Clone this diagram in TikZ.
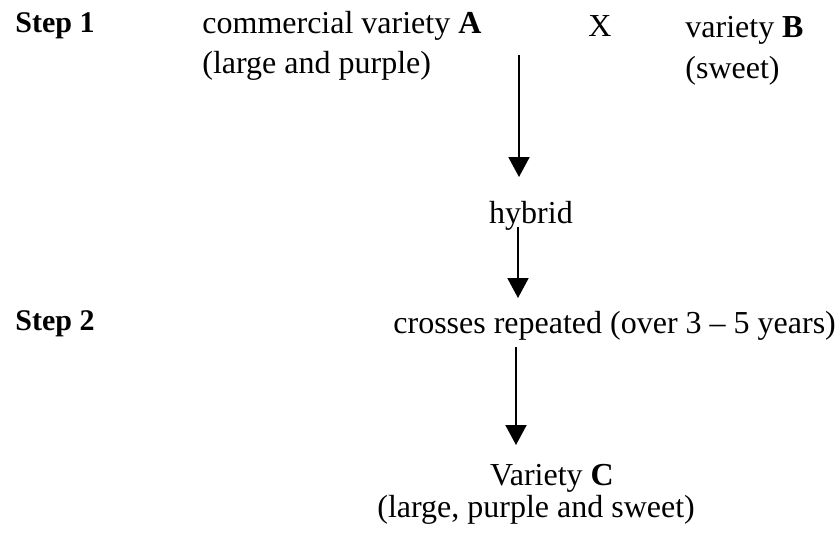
\documentclass[tikz,border=0pt]{standalone}
\usepackage{fontspec}
\setmainfont{Liberation Serif}
\usetikzlibrary{arrows.meta}
\begin{document}
\begin{tikzpicture}[x=0.5pt,y=-0.5pt,
  txt/.style={inner sep=0pt,font=\fontsize{16pt}{18pt}\selectfont},
  steplabel/.style={inner sep=0pt,anchor=base west,font=\fontsize{15pt}{17pt}\selectfont\bfseries},
  arr/.style={line width=1pt,-{Triangle[length=10pt,width=10.5pt]}}]
\useasboundingbox[fill=white] (0,0) rectangle (837,532);
% labels
\node[steplabel] (s1) at (15,32) {Step 1};
\node[steplabel] (s2) at (15,330) {Step 2};
\node[txt,anchor=base west] (a1) at (202,33) {commercial variety \textbf{A}};
\node[txt,anchor=base west] (a2) at (202,73) {(large and purple)};
\node[txt,anchor=base] (x) at (600,36) {X};
\node[txt,anchor=base west] (b1) at (685,37) {variety \textbf{B}};
\node[txt,anchor=base west] (b2) at (685,78) {(sweet)};
\node[txt,anchor=base] (hy) at (531,223) {hybrid};
\node[txt,anchor=base west] (cr) at (393,333) {crosses repeated (over 3 -- 5 years)};
\node[txt,anchor=base] (c1) at (552,485) {Variety \textbf{C}};
\node[txt,anchor=base west] (c2) at (377,517) {(large, purple and sweet)};
% arrow end points
\coordinate (p1) at (519,55);
\coordinate (q1) at (519,177);
\coordinate (p2) at (518,227);
\coordinate (q2) at (518,298);
\coordinate (p3) at (516,347);
\coordinate (q3) at (516,445);
\draw[arr] (p1) -- (q1);
\draw[arr] (p2) -- (q2);
\draw[arr] (p3) -- (q3);
\end{tikzpicture}
\end{document}
